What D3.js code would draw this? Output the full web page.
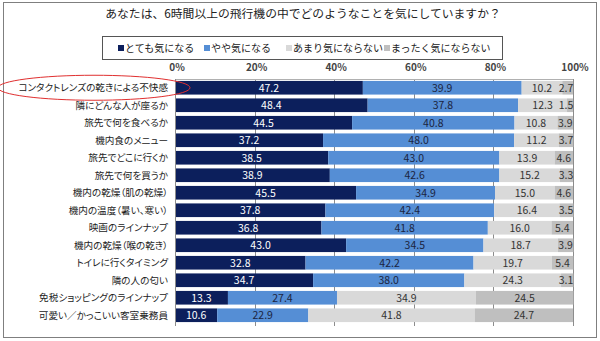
<!DOCTYPE html>
<html>
<head>
<meta charset="utf-8">
<script src="https://cdn.jsdelivr.net/npm/d3@7"></script>
<style>
  body { margin: 0; background: #fff; }
  text { font-family: "Noto Sans CJK JP", "Noto Sans", sans-serif; }
  .cat { font-feature-settings: "palt"; }
</style>
</head>
<body>
<div id="chart"></div>
<script>
// data
var categories = [
  "コンタクトレンズの乾きによる不快感",
  "隣にどんな人が座るか",
  "旅先で何を食べるか",
  "機内食のメニュー",
  "旅先でどこに行くか",
  "旅先で何を買うか",
  "機内の乾燥（肌の乾燥）",
  "機内の温度（暑い、寒い）",
  "映画のラインナップ",
  "機内の乾燥（喉の乾き）",
  "トイレに行くタイミング",
  "隣の人の匂い",
  "免税ショッピングのラインナップ",
  "可愛い／かっこいい客室乗務員"
];
var seriesNames = ["とても気になる", "やや気になる", "あまり気にならない", "まったく気にならない"];
var veryMuch   = [47.2, 48.4, 44.5, 37.2, 38.5, 38.9, 45.5, 37.8, 36.8, 43.0, 32.8, 34.7, 13.3, 10.6];
var somewhat   = [39.9, 37.8, 40.8, 48.0, 43.0, 42.6, 34.9, 42.4, 41.8, 34.5, 42.2, 38.0, 27.4, 22.9];
var notMuch    = [10.2, 12.3, 10.8, 11.2, 13.9, 15.2, 15.0, 16.4, 16.0, 18.7, 19.7, 24.3, 34.9, 41.8];
var notAtAll   = [2.7, 1.5, 3.9, 3.7, 4.6, 3.3, 4.6, 3.5, 5.4, 3.9, 5.4, 3.1, 24.5, 24.7];
var tickValues = [0, 20, 40, 60, 80, 100];
var title = "あなたは、6時間以上の飛行機の中でどのようなことを気にしていますか？";

var colors = ["#0c1f5c", "#558ed5", "#d9d9d9", "#bfbfbf"];
var labelColors = ["#ffffff", "#1b2440", "#333333", "#333333"];

const width = 600, height = 341;
const svg = d3.select("#chart").append("svg")
  .attr("width", width).attr("height", height);

// outer frame
svg.append("rect")
  .attr("x", 3.5).attr("y", 2.5).attr("width", 593).attr("height", 335)
  .attr("fill", "none").attr("stroke", "#7f7f7f");

// title
svg.append("text")
  .attr("x", 303).attr("y", 18)
  .attr("text-anchor", "middle")
  .style("font-size", "11.8px")
  .attr("fill", "#222")
  .text(title);

// legend
svg.append("rect")
  .attr("x", 102.5).attr("y", 36.5).attr("width", 400).attr("height", 23)
  .attr("fill", "#fff").attr("stroke", "#555");
var legendX = [118, 204, 286, 384];
var leg = svg.selectAll(".leg").data(seriesNames).enter().append("g")
  .attr("transform", function(d, i) { return "translate(" + legendX[i] + ",48)"; });
leg.append("rect").attr("x", 0).attr("y", -3).attr("width", 6).attr("height", 6)
  .attr("fill", function(d, i) { return colors[i]; });
leg.append("text").attr("x", 7).attr("y", 3.5)
  .style("font-size", "10px").attr("fill", "#222")
  .text(function(d) { return d; });

// scales
const x = d3.scaleLinear().domain([0, 100]).range([175, 573]);
const y = d3.scaleBand().domain(categories).range([79, 324]).paddingInner(0.22).paddingOuter(0.11);

// gridlines
svg.selectAll(".grid").data(tickValues.slice(1)).enter().append("line")
  .attr("x1", function(d) { return Math.round(x(d)) + 0.5; })
  .attr("x2", function(d) { return Math.round(x(d)) + 0.5; })
  .attr("y1", 79).attr("y2", 326)
  .attr("stroke", "#8c8c8c");
svg.append("line").attr("x1", 175).attr("x2", 573).attr("y1", 79.5).attr("y2", 79.5)
  .attr("stroke", "#b0b0b0");

// tick labels
svg.selectAll(".tick").data(tickValues).enter().append("text")
  .attr("x", function(d) { return x(d) + 2; })
  .attr("y", 71)
  .attr("text-anchor", "middle")
  .style("font-size", "10px").style("font-weight", "bold")
  .attr("fill", "#444")
  .text(function(d) { return d + "%"; });

// stacked bars
var rows = categories.map(function(c, i) {
  return { cat: c, v0: veryMuch[i], v1: somewhat[i], v2: notMuch[i], v3: notAtAll[i] };
});
var stack = d3.stack().keys(["v0", "v1", "v2", "v3"])(rows);

var layers = svg.selectAll(".layer").data(stack).enter().append("g");
layers.selectAll("rect").data(function(d) { return d; }).enter().append("rect")
  .attr("x", function(d) { return x(d[0]); })
  .attr("width", function(d) { return x(d[1]) - x(d[0]); })
  .attr("y", function(d) { return y(d.data.cat); })
  .attr("height", y.bandwidth())
  .attr("fill", function(d) { return colors[this.parentNode.__data__.index]; });

layers.each(function(layer) {
  d3.select(this).selectAll("text").data(layer).enter().append("text")
    .attr("x", function(d) {
      var cx = (x(d[0]) + x(d[1])) / 2;
      return Math.min(cx, 566);
    })
    .attr("y", function(d) { return y(d.data.cat) + y.bandwidth() / 2 + 4; })
    .attr("text-anchor", "middle")
    .style("font-size", "10.5px")
    .attr("fill", labelColors[layer.index])
    .text(function(d) { return (d[1] - d[0]).toFixed(1); });
});

// category axis
svg.append("line").attr("x1", 175.5).attr("x2", 175.5).attr("y1", 79).attr("y2", 326)
  .attr("stroke", "#8c8c8c");
svg.selectAll(".cat").data(categories).enter().append("text")
  .attr("class", "cat")
  .attr("x", 168)
  .attr("y", function(d) { return y(d) + y.bandwidth() / 2 + 3.5; })
  .attr("text-anchor", "end")
  .style("font-size", "9.6px")
  .attr("fill", "#222")
  .text(function(d) { return d; });

// red highlight ellipse round the first label
svg.append("ellipse")
  .attr("cx", 94).attr("cy", y(categories[0]) + y.bandwidth() / 2)
  .attr("rx", 96).attr("ry", 12.5)
  .attr("fill", "none").attr("stroke", "#e03030").attr("stroke-width", 1);
</script>
</body>
</html>
